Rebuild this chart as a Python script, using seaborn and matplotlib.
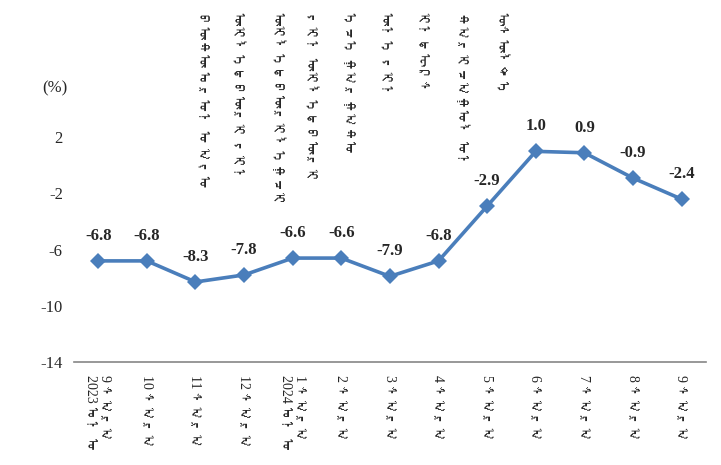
import numpy as np
import matplotlib
matplotlib.use("Agg")
import matplotlib.pyplot as plt
from matplotlib import font_manager
from matplotlib.ft2font import FT2Font
import seaborn as sns

# ---------------- data ----------------
months = ["9 ᠰᠠᠷᠠ\n2023 ᠣᠨ ᠤ", "10 ᠰᠠᠷᠠ", "11 ᠰᠠᠷᠠ", "12 ᠰᠠᠷᠠ",
          "1 ᠰᠠᠷᠠ\n2024 ᠣᠨ ᠤ", "2 ᠰᠠᠷᠠ", "3 ᠰᠠᠷᠠ", "4 ᠰᠠᠷᠠ",
          "5 ᠰᠠᠷᠠ", "6 ᠰᠠᠷᠠ", "7 ᠰᠠᠷᠠ", "8 ᠰᠠᠷᠠ", "9 ᠰᠠᠷᠠ"]
values = [-6.8, -6.8, -8.3, -7.8, -6.6, -6.6, -7.9, -6.8, -2.9, 1.0, 0.9, -0.9, -2.4]
y_ticks = [2, -2, -6, -10, -14]
title_columns = ["ᠪᠦᠬᠦ ᠣᠷᠤᠨ ᠤ ᠠᠵᠤ", "ᠦᠢᠯᠡᠳᠪᠦᠷᠢ ᠶᠢᠨ", "ᠦᠢᠯᠡᠳᠪᠦᠷᠢᠯᠡᠭᠴᠢ",
                 "ᠶᠢᠨ ᠦᠢᠯᠡᠳᠪᠦᠷᠢ", "ᠡᠴᠡ ᠭᠠᠷᠭᠠᠬᠤ", "ᠦᠨᠡ ᠶᠢᠨ", "ᠢᠨᠳᠧᠺᠰ",
                 "ᠬᠠᠷᠢᠴᠠᠭᠤᠯ ᠤᠨ", "ᠥᠰᠦᠯᠲᠡ"]
unit_label = "(%)"

# ---------------- fonts ----------------
def find_mongolian_font():
    for f in font_manager.fontManager.ttflist:
        try:
            cmap = FT2Font(f.fname).get_charmap()
        except Exception:
            continue
        if 0x1820 in cmap and 0x1830 in cmap:
            return f.name
    return None

mong = find_mongolian_font()
serif = ["Liberation Serif"] + ([mong] if mong else []) + ["DejaVu Sans"]

sns.set_style("white")
plt.rcParams["font.family"] = serif

fig = plt.figure(figsize=(7.21, 4.65), dpi=100)
ax = fig.add_axes([0.1026, 0.2215, 0.8764, 0.604])

x = np.arange(len(values))
sns.lineplot(x=x, y=values, ax=ax, color="#4A7EBB", linewidth=2.6,
             marker="D", markersize=8.5, markeredgewidth=0, markeredgecolor="#4A7EBB")

for xi, v in zip(x, values):
    ax.annotate(f"{v:.1f}", (xi, v), xytext=(0, 18), textcoords="offset points",
                ha="center", va="center", fontsize=12, fontweight="bold",
                family=serif)

ax.set_xlim(-0.5, len(values) - 0.5)
ax.set_ylim(-14, 6)
ax.set_yticks(y_ticks)
ax.set_yticklabels([str(t) for t in y_ticks], fontsize=12, family=serif)
ax.set_xticks(x)
ax.set_xticklabels(months, rotation=-90, va="top", ha="center",
                   multialignment="left", fontsize=10, family=serif)
ax.tick_params(axis="both", length=0, pad=8)
ax.tick_params(axis="x", pad=9)

for s in ["top", "right", "left"]:
    ax.spines[s].set_visible(False)
ax.spines["bottom"].set_color("#868686")
ax.spines["bottom"].set_linewidth(1.2)
ax.grid(False)

fig.text(55 / 721, 1 - 88 / 465, unit_label, ha="center", va="center",
         fontsize=12, family=serif)

col_x = [202, 237, 277, 310, 348, 385, 422, 462, 500]
for cx, t in zip(col_x, title_columns):
    fig.text(cx / 721, 1 - 12 / 465, t, rotation=-90, ha="center", va="top",
             fontsize=10, family=serif)

fig.savefig("out.png", dpi=100)
